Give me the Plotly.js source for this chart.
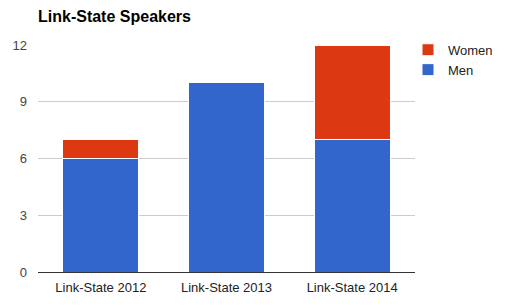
<!DOCTYPE html>
<html>
<head>
<meta charset="utf-8">
<script src="https://cdn.plot.ly/plotly-3.0.1.min.js"></script>
<style>html,body{margin:0;padding:0;background:#fff;}#chart{width:512px;height:308px;}</style>
</head>
<body>
<div id="chart"></div>
<script>
var categories = ["Link-State 2012", "Link-State 2013", "Link-State 2014"];
var men = [6, 10, 7];
var women = [1, 0, 5];
var yTicks = [0, 3, 6, 9, 12];

var traces = [
  {type: 'bar', name: 'Men', x: categories, y: men,
   marker: {color: '#3366cc', line: {color: '#ffffff', width: 1}}},
  {type: 'bar', name: 'Women', x: categories, y: women,
   marker: {color: '#dc3912', line: {color: '#ffffff', width: 1}}}
];

var layout = {
  width: 512, height: 308,
  margin: {l: 38, r: 97, t: 45, b: 36, autoexpand: false},
  paper_bgcolor: '#fff', plot_bgcolor: '#fff',
  font: {family: 'Liberation Sans, Arial, sans-serif', size: 13, color: '#222'},
  title: {text: '<b>Link-State Speakers</b>', x: 38/512, xanchor: 'left', y: 0.948, yanchor: 'middle',
          font: {size: 16, color: '#000'}},
  barmode: 'stack',
  bargap: 0.395,
  showlegend: true,
  legend: {xref: 'container', xanchor: 'left', y: 1.045, yanchor: 'top', traceorder: 'reversed',
           font: {size: 13, color: '#222'}, itemwidth: 30, tracegroupgap: 0},
  xaxis: {showgrid: false, showline: false, ticks: '', ticklabelstandoff: 6, tickfont: {size: 13, color: '#222'}},
  yaxis: {range: [0, 12], tickvals: yTicks, ticktext: yTicks.map(String), gridcolor: '#cccccc',
          zeroline: true, zerolinecolor: '#333', zerolinewidth: 1, showline: false,
          ticks: '', ticklen: 0, ticklabelstandoff: 10, tickfont: {size: 13, color: '#444'}, automargin: false}
};
layout.legend.x = 408/512;

Plotly.newPlot('chart', traces, layout, {displayModeBar: false, staticPlot: true});
</script>
</body>
</html>
